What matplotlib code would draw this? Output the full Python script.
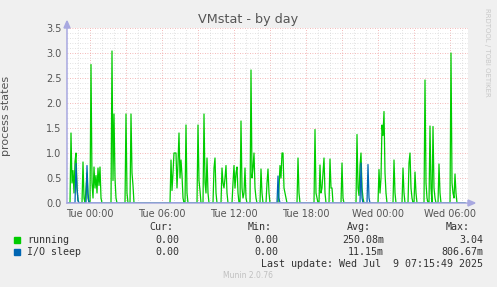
import matplotlib
matplotlib.use("Agg")
import matplotlib.pyplot as plt
import numpy as np

# 5-minute slots relative to Tue 00:00 (12 slots per hour)
run_slots = [-23, -20, -19, -18, -17, -16, -15, -14, -13, -12, -11,
             -8, -7, -6, -5, -4, -3, -2, -1, 0, 1, 2, 3, 4, 5, 6, 7, 8, 9, 10, 11, 12,
             21, 22, 23, 24, 25, 26, 27,
             35, 36, 37, 38,
             40, 41, 42, 43, 44,
             80, 81, 82, 83, 84, 85, 86, 87, 88, 89, 90, 91, 92, 93, 94,
             95, 96, 97, 98,
             107, 108, 109, 110, 111,
             113, 114, 115, 116, 117, 118, 119,
             123, 124, 125, 126, 127,
             131, 132, 133, 134, 135, 136, 137, 138,
             142, 143, 144, 145, 146, 147, 148, 149,
             150, 151, 152, 153, 154, 155, 156, 157,
             160, 161, 162, 163, 164, 165, 166, 167,
             170, 171, 172, 173,
             176, 177, 178, 179, 180,
             188, 189, 190, 191, 192, 193, 194, 195, 196, 197,
             207, 208, 209, 210,
             224, 225, 226, 227, 228,
             229, 230, 231, 232, 233, 234, 235, 236,
             239, 240, 241, 242, 243,
             251, 252, 253, 254,
             266, 267, 268, 269, 270, 271, 272, 273, 274,
             288, 289, 290, 291, 292, 293, 294, 295, 296, 297,
             303, 304, 305, 306,
             312, 313, 314, 315,
             318, 319, 320, 321, 322, 323, 324, 325, 326, 327,
             334, 335, 336, 337, 338, 339, 340, 341, 342, 343, 344, 345, 346,
             348, 349, 350, 351,
             360, 361, 362, 363, 364, 365, 366, 367,
             375]
run_vals = [0, 0, 1.4, 0.4, 0.65, 0.2, 0.83, 1.0, 0.3, 0.05, 0,
            0, 0.82, 0.1, 0, 0.3, 0.6, 0.1, 0, 0, 2.77, 0.4, 0.1, 0.72, 0.3, 0.55, 0.2, 0.7, 0.35, 0.72, 0.1, 0,
            0, 3.04, 0.45, 1.78, 0.5, 0.1, 0,
            0, 1.78, 0.2, 0,
            0, 1.78, 0.6, 0.35, 0,
            0, 0.86, 0.25, 0.6, 1.0, 1.0, 1.0, 0.3, 0.8, 1.4, 0.5, 0.86, 0.55, 0.1, 0,
            0, 1.56, 0.2, 0,
            0, 1.56, 0.45, 0.25, 0,
            0, 1.78, 0.4, 0.2, 0.9, 0.2, 0,
            0, 0.7, 0.9, 0.2, 0,
            0, 0.7, 0.4, 0.3, 0.5, 0.75, 0.2, 0,
            0, 0.4, 0.75, 0.3, 0.6, 0.72, 0.2, 0,
            0, 1.64, 0.3, 0.1, 0.2, 0.7, 0.1, 0,
            0, 2.66, 0.5, 0.7, 1.0, 0.3, 0.1, 0,
            0, 0.68, 0.2, 0,
            0, 0.4, 0.68, 0.2, 0,
            0, 0.3, 0.75, 0.5, 1.0, 1.0, 0.3, 0.2, 0.1, 0,
            0, 0.9, 0.2, 0,
            0, 1.47, 0.2, 0.1, 0,
            0, 0.76, 0.2, 0.3, 0.6, 0.9, 0.2, 0,
            0, 0.88, 0.3, 0.3, 0,
            0, 0.8, 0.1, 0,
            0, 1.37, 0.3, 0.15, 0.75, 1.0, 0.3, 0.1, 0,
            0, 0.67, 0.2, 0.5, 1.56, 1.35, 1.83, 0.6, 0.2, 0,
            0, 0.86, 0.2, 0,
            0, 0.7, 0.2, 0,
            0, 0.8, 1.0, 0.3, 0.1, 0, 0, 0.62, 0.2, 0,
            0, 2.46, 0.4, 0.1, 0, 0, 1.54, 0.3, 0, 1.53, 0.3, 0.1, 0,
            0, 0.78, 0.2, 0,
            0, 3.0, 0.4, 0.2, 0.1, 0.58, 0.2, 0,
            0]

io_slots = [-23, -15, -14, -13, -12, -11, -4, -3, -2, -1,
            187, 188, 189, 190, 270, 271, 272, 273, 277, 278, 279, 280, 375]
io_vals = [0, 0, 0.79, 0.3, 0.05, 0, 0, 0.75, 0.2, 0,
           0, 0.54, 0.1, 0, 0, 0.8, 0.1, 0, 0, 0.77, 0.1, 0, 0]

tick_hours = [0, 6, 12, 18, 24, 30]
tick_labels = ["Tue 00:00", "Tue 06:00", "Tue 12:00", "Tue 18:00", "Wed 00:00", "Wed 06:00"]

legend_names = ["running", "I/O sleep"]
legend_cur = ["0.00", "0.00"]
legend_min = ["0.00", "0.00"]
legend_avg = ["250.08m", "11.15m"]
legend_max = ["3.04", "806.67m"]

GREEN = "#00CC00"
BLUE = "#0066B3"
BG = "#F0F0F0"
AXC = "#A8A8E0"

fig = plt.figure(figsize=(4.97, 2.87), dpi=100, facecolor=BG)
ax = fig.add_axes([67 / 497, 1 - 203 / 287, 401 / 497, 175 / 287])
ax.set_facecolor("white")

run_h = np.array(run_slots) / 12.0
io_h = np.array(io_slots) / 12.0
ax.plot(run_h, run_vals, color=GREEN, lw=0.9, zorder=3)
ax.plot(io_h, io_vals, color=BLUE, lw=0.9, zorder=4)

ax.set_xlim(-23 / 12.0, 378 / 12.0)
ax.set_ylim(0, 3.5)

# grid: minor grey, major light red
for h in np.arange(-1, 32, 1):
    c = "#F0A0A0" if h % 3 == 0 else "#D8D8D8"
    ax.axvline(h, color=c, lw=0.6, ls=(0, (1, 2)), zorder=1)
for v in np.arange(0.1, 3.55, 0.1):
    major = abs(v / 0.5 - round(v / 0.5)) < 1e-6
    ax.axhline(v, color="#F0A0A0" if major else "#D8D8D8", lw=0.6, ls=(0, (1, 2)), zorder=1)

ax.set_xticks(tick_hours)
ax.set_xticklabels(tick_labels)
ax.set_yticks(np.arange(0, 3.51, 0.5))
ax.set_yticklabels([f"{v:.1f}" for v in np.arange(0, 3.51, 0.5)])
ax.tick_params(axis="both", length=0, labelsize=7, colors="#555555", pad=4)
for s in ["top", "right"]:
    ax.spines[s].set_visible(False)
for s in ["left", "bottom"]:
    ax.spines[s].set_color(AXC)
    ax.spines[s].set_linewidth(1.1)
    ax.spines[s].set_zorder(5)

# arrow heads on axes
fig.patches.append(plt.Polygon([[64 / 497, 1 - 28 / 287], [70 / 497, 1 - 28 / 287], [67 / 497, 1 - 21 / 287]],
                               closed=True, color=AXC, transform=fig.transFigure))
fig.patches.append(plt.Polygon([[468 / 497, 1 - 200 / 287], [468 / 497, 1 - 206 / 287], [475 / 497, 1 - 203 / 287]],
                               closed=True, color=AXC, transform=fig.transFigure))

ax.set_ylabel("process states", fontsize=8, color="#555555")
ax.yaxis.set_label_coords((11 - 67) / 401, 0.5)

fig.text(248.5 / 497, 1 - 20 / 287, "VMstat - by day", ha="center", va="center",
         fontsize=9.2, color="#555555")
fig.text(487 / 497, 1 - 52 / 287, "RRDTOOL / TOBI OETIKER", rotation=270, ha="center", va="center",
         fontsize=5, color="#C8C8C8")

# legend block
mono = "DejaVu Sans Mono"
tc = "#333333"
fs = 7.2
for x, lab in zip([173, 272, 371, 470], ["Cur:", "Min:", "Avg:", "Max:"]):
    fig.text(x / 497, 1 - 227 / 287, lab, ha="right", va="center", family=mono, fontsize=fs, color=tc)
colors = [GREEN, BLUE]
for i, name in enumerate(legend_names):
    y = 1 - (240 + 12 * i) / 287
    fig.patches.append(plt.Rectangle((14 / 497, y - 3 / 287), 6 / 497, 6 / 287,
                                     color=colors[i], transform=fig.transFigure))
    fig.text(27 / 497, y, name, ha="left", va="center", family=mono, fontsize=fs, color=tc)
    for x, val in zip([179, 278, 384, 483], [legend_cur[i], legend_min[i], legend_avg[i], legend_max[i]]):
        fig.text(x / 497, y, val, ha="right", va="center", family=mono, fontsize=fs, color=tc)
fig.text(483 / 497, 1 - 264 / 287, "Last update: Wed Jul  9 07:15:49 2025", ha="right", va="center",
         family=mono, fontsize=fs, color=tc)
fig.text(248 / 497, 1 - 276 / 287, "Munin 2.0.76", ha="center", va="center",
         fontsize=5.5, color="#C0C0C0")

fig.savefig("out.png", dpi=100, facecolor=BG)
